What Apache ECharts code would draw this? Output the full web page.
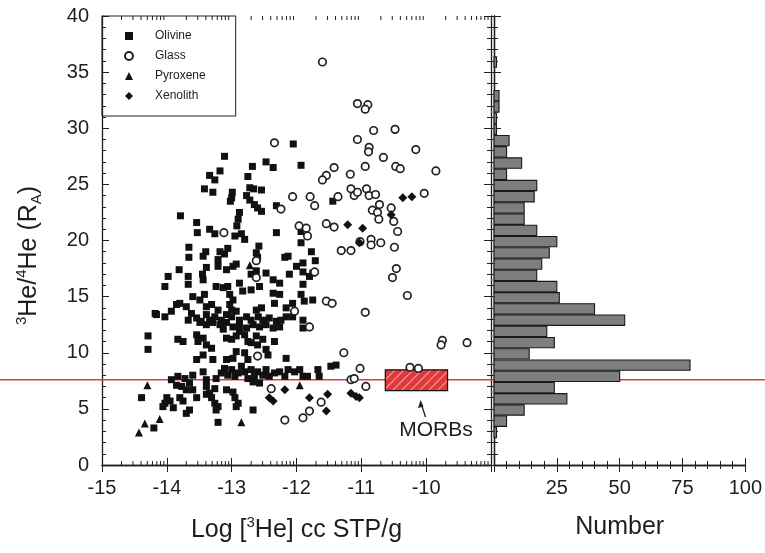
<!DOCTYPE html>
<html><head><meta charset="utf-8">
<script src="https://cdn.jsdelivr.net/npm/echarts@6/dist/echarts.min.js"></script>
<style>html,body{margin:0;padding:0;background:#fff}#c{width:765px;height:553px}</style>
</head><body><div id="c"></div>
<script>
// ---- data: [log 3He, 3He/4He (RA)] ----
const olivine = [[-13.11,27.5],[-13.18,26.2],[-13.34,25.8],[-13.26,25.4],[-13.42,24.6],[-13.29,24.3],[-12.99,24.3],[-13.00,23.8],[-13.02,23.5],[-12.68,26.6],[-12.75,25.7],[-12.47,27.0],[-12.36,26.5],[-12.05,28.6],[-12.72,24.7],[-12.66,24.6],[-12.54,24.5],[-12.77,24.0],[-12.72,23.6],[-12.65,23.2],[-12.60,22.9],[-12.54,22.6],[-12.31,23.1],[-13.79,22.2],[-13.54,21.6],[-13.53,20.7],[-13.34,21.0],[-13.26,20.6],[-12.88,22.5],[-12.90,21.9],[-12.92,21.3],[-12.95,20.4],[-12.85,20.6],[-12.80,20.1],[-12.31,20.7],[-13.66,19.4],[-13.66,18.5],[-13.44,18.6],[-13.40,19.0],[-13.18,19.0],[-13.11,18.8],[-13.06,19.3],[-13.21,18.3],[-13.21,17.7],[-13.08,17.4],[-12.98,17.7],[-12.93,17.9],[-12.58,19.5],[-12.62,18.9],[-12.60,18.5],[-12.18,18.5],[-12.13,18.6],[-13.81,17.4],[-13.98,16.8],[-13.67,16.8],[-13.45,17.0],[-13.39,17.6],[-12.70,17.0],[-12.62,17.3],[-12.47,17.1],[-12.11,17.0],
[-11.93,26.7],[-11.44,23.5],[-11.93,19.8],[-11.77,19.0],[-11.71,18.2],[-11.90,18.0],[-12.00,17.7],[-11.90,17.2],[-11.80,16.8],[-11.93,20.8],
[-14.03,15.9],[-13.67,16.1],[-13.44,16.5],[-13.24,15.9],[-13.13,15.8],[-13.06,15.9],[-13.03,15.2],[-12.98,14.7],[-13.03,14.3],[-13.00,13.8],[-12.88,16.2],[-12.83,15.5],[-12.70,15.6],[-12.57,15.9],[-12.36,16.5],[-12.26,16.2],[-12.36,15.3],[-12.26,15.2],[-13.60,15.0],[-13.42,15.2],[-13.49,14.7],[-13.85,14.3],[-13.80,14.4],[-13.70,14.1],[-13.39,14.1],[-13.31,14.3],[-14.18,13.5],[-14.16,13.4],[-14.03,13.2],[-13.93,13.7],[-13.67,12.9],[-13.62,13.5],[-13.54,13.1],[-13.47,12.8],[-13.39,13.4],[-13.34,12.9],[-13.26,13.2],[-13.21,13.8],[-13.16,12.9],[-13.08,13.4],[-13.00,13.2],[-12.93,13.7],[-12.88,12.9],[-12.77,13.2],[-12.70,12.9],[-12.62,13.8],[-12.54,14.0],[-12.59,13.2],[-12.52,12.9],[-12.42,13.1],[-12.31,12.8],[-12.24,12.9],[-12.16,13.2],[-12.34,14.4],[-12.16,14.0],[-13.49,12.7],[-13.39,12.5],[-13.29,12.7],[-13.18,12.5],[-13.08,12.7],[-12.98,12.3],[-12.88,12.5],[-12.77,12.2],[-12.67,12.5],[-12.57,12.3],[-12.47,12.5],[-12.36,12.2],[-12.26,12.3],[-14.29,11.5],[-14.29,10.3],[-13.83,11.2],[-13.75,11.0],[-13.54,11.6],[-13.52,11.0],[-13.44,11.3],[-13.39,10.7],[-13.31,10.4],[-13.13,12.1],[-13.08,11.3],[-13.00,11.2],[-12.93,11.5],[-12.88,11.9],[-12.80,11.6],[-12.75,11.0],[-12.70,10.9],[-12.62,11.5],[-12.60,10.7],[-12.52,11.2],[-12.34,11.0],[-13.54,9.4],[-13.44,9.8],[-13.29,9.4],[-13.08,9.4],[-12.98,9.5],[-12.93,10.1],[-12.80,10.0],[-12.75,9.4],[-12.47,10.3],[-12.44,9.8],[-12.16,9.5],
[-13.93,7.6],[-13.83,7.9],[-13.72,7.7],[-13.65,7.3],[-13.60,8.0],[-13.44,8.3],[-13.39,7.6],[-13.24,7.7],[-13.16,8.2],[-13.11,8.6],[-13.06,8.0],[-13.00,8.5],[-12.95,7.9],[-12.90,8.2],[-12.85,8.8],[-12.80,8.3],[-12.75,7.7],[-12.70,8.5],[-12.65,7.9],[-12.60,8.3],[-12.52,8.0],[-12.47,8.5],[-12.42,7.9],[-12.34,8.2],[-12.26,8.3],[-12.18,7.9],[-12.13,8.5],[-12.67,7.4],[-12.57,7.3],
[-13.85,7.1],[-13.77,7.0],[-13.70,6.7],[-13.60,6.7],[-13.39,7.0],[-13.34,6.4],[-13.26,6.8],[-13.08,6.7],[-12.98,6.5],[-14.39,6.0],[-14.00,6.0],[-14.03,5.5],[-13.95,5.7],[-13.80,6.0],[-13.75,5.7],[-13.54,6.0],[-13.39,6.3],[-13.31,6.0],[-13.26,5.5],[-13.21,5.2],[-13.24,4.9],[-12.95,6.0],[-12.90,5.5],[-12.93,5.2],[-12.67,4.9],[-14.06,5.2],[-13.90,5.1],[-13.70,4.6],[-13.65,4.9],[-13.21,3.8],[-14.20,3.3],
[-11.75,17.1],[-11.90,16.1],[-11.93,15.2],[-11.88,14.6],[-11.75,14.7],[-12.06,14.4],[-12.06,13.2],[-11.90,12.9],[-11.90,12.2],[-12.03,8.3],[-11.95,8.5],[-11.90,7.9],[-11.83,7.9],[-11.67,8.5],[-11.65,7.9],[-11.47,8.8],[-11.39,8.9]];

const glass = [[-12.34,28.7],[-12.24,22.8],[-13.12,20.7],[-12.62,18.2],[-12.06,23.9],[-11.60,35.9],[-11.06,32.2],[-10.90,32.1],[-10.94,31.7],[-10.81,29.8],[-10.48,29.9],[-11.06,29.0],[-10.88,28.3],[-10.89,27.9],[-10.66,27.4],[-10.16,28.1],[-11.42,26.5],[-11.54,25.8],[-11.60,25.4],[-11.17,25.9],[-10.94,26.6],[-10.47,26.6],[-10.40,26.4],[-9.85,26.2],[-11.79,23.9],[-11.72,23.1],[-11.36,23.9],[-11.16,24.6],[-11.11,24.0],[-11.06,24.3],[-10.92,24.6],[-10.88,24.0],[-10.78,24.1],[-10.72,23.2],[-10.83,22.7],[-10.75,22.5],[-10.73,21.9],[-10.54,22.9],[-10.50,21.7],[-10.03,24.2],[-11.96,21.3],[-11.85,21.1],[-11.83,20.4],[-11.54,21.5],[-11.42,21.2],[-10.44,20.8],[-11.31,19.1],[-11.16,19.1],[-11.02,19.9],[-10.85,20.1],[-10.85,19.6],[-10.70,19.8],[-10.49,19.4],[-10.46,17.5],[-11.72,17.2],[-10.52,16.7],[-12.62,16.7],[-12.60,9.7],[-12.18,4.0],[-12.39,6.8],[-11.54,14.6],[-11.45,14.4],[-12.03,13.7],[-11.80,12.3],[-10.29,15.1],[-10.94,13.6],[-9.75,11.1],[-9.77,10.7],[-9.37,10.9],[-11.27,10.0],[-11.02,8.6],[-11.16,7.6],[-11.11,7.7],[-10.93,7.0],[-11.62,5.6],[-11.80,4.8],[-11.90,4.2],[-10.25,8.7],[-10.12,8.6]];

const pyroxene = [[-14.30,7.1],[-14.34,3.7],[-14.43,2.9],[-14.11,4.1],[-12.85,3.8],[-11.95,7.1],[-12.72,17.8]];

const xenolith = [[-10.36,23.8],[-10.22,23.9],[-11.21,21.4],[-10.98,21.1],[-10.54,22.3],[-11.03,19.8],[-12.18,6.7],[-12.42,6.0],[-12.36,5.7],[-11.16,6.4],[-11.08,6.1],[-11.03,6.0],[-11.80,6.0],[-11.52,6.3],[-11.54,4.8]];

// histogram of 3He/4He (bin centre, number)
const binCenters = [2.9,3.9,4.9,5.9,6.9,7.9,8.9,9.9,10.9,11.9,12.9,13.9,14.9,15.9,16.9,17.9,18.9,19.9,20.9,21.9,22.9,23.9,24.9,25.9,26.9,27.9,28.9,29.9,30.9,31.9,32.9,35.9];
const binCounts  = [1,5,12,29,24,50,78,14,24,21,52,40,26,25,17,19,22,25,17,12,12,16,17,5,11,5,6,1,1,2,2,1];

// MORB range box: [xMin, yMin, xMax, yMax] and MORB reference ratio
const morbBox = [-10.63, 6.63, -9.67, 8.48];
const morbRatio = 7.6;

const xTicksLeft = [-15,-14,-13,-12,-11,-10,-9];
const yTickStep = 5;
const numberTickStep = 25;

// ---- chart ----
const FONT = '"Liberation Sans", Arial, Helvetica, sans-serif';
const AX = '#1e1e1e';
const chart = echarts.init(document.getElementById('c'), null, {renderer: 'canvas'});

function hatchPattern() {
  const c = document.createElement('canvas');
  c.width = 9; c.height = 9;
  const g = c.getContext('2d');
  g.fillStyle = '#e0393b'; g.fillRect(0, 0, 9, 9);
  g.strokeStyle = 'rgba(255,170,170,0.85)'; g.lineWidth = 1.2;
  g.beginPath();
  g.moveTo(0, 9); g.lineTo(9, 0);
  g.moveTo(-3, 3); g.lineTo(3, -3);
  g.moveTo(6, 12); g.lineTo(12, 6);
  g.stroke();
  return c;
}

// log-decade minor tick positions along log[3He]
const logMinor = [];
for (let d = xTicksLeft[0]; d < xTicksLeft[xTicksLeft.length - 1]; d++) {
  for (let m = 2; m <= 9; m++) logMinor.push([d + Math.log10(m), 0]);
}

const axLine = {show: true, lineStyle: {color: AX, width: 1.3}};
const tickIn = {show: true, inside: true, length: 7, lineStyle: {color: AX, width: 1}};
const minorIn = {show: true, splitNumber: 5, length: 4, lineStyle: {color: AX, width: 1}};
const supRich = {
  s: {fontSize: 15, fontFamily: FONT, color: AX, verticalAlign: 'top', lineHeight: 30},
  b: {fontSize: 15, fontFamily: FONT, color: AX, verticalAlign: 'bottom', lineHeight: 30},
  n: {fontSize: 25, fontFamily: FONT, color: AX, lineHeight: 30}
};

const gridL = {left: 102, top: 16, width: 389, height: 449};
const gridR = {left: 494, top: 16, width: 257, height: 449};

const option = {
  animation: false,
  backgroundColor: '#fff',
  grid: [gridL, gridR],
  legend: {
    orient: 'vertical', left: 102, top: 16,
    itemWidth: 8, itemHeight: 8, itemGap: 6,
    padding: [13, 30, 13, 22],
    borderColor: AX, borderWidth: 1,
    textStyle: {fontSize: 12, fontFamily: FONT, color: AX, lineHeight: 14, padding: [0, 0, 0, 17]},
    data: ['Olivine', 'Glass', 'Pyroxene', 'Xenolith']
  },
  xAxis: [
    {gridIndex: 0, type: 'value', position: 'bottom', min: xTicksLeft[0], max: xTicksLeft[xTicksLeft.length-1], interval: 1,
     axisLine: axLine, axisTick: tickIn, splitLine: {show: false},
     axisLabel: {fontSize: 20, fontFamily: FONT, color: AX, margin: 13, formatter: v => v === -9 ? '' : String(v)},
     name: '{n|Log [}{s|3}{n|He] cc STP/g}', nameLocation: 'middle', nameGap: 50,
     nameTextStyle: {fontSize: 25, fontFamily: FONT, color: AX, rich: supRich}},
    {gridIndex: 0, type: 'value', position: 'top', min: xTicksLeft[0], max: xTicksLeft[xTicksLeft.length-1], interval: 1,
     axisLine: axLine, axisTick: tickIn, axisLabel: {show: false}, splitLine: {show: false}},
    {gridIndex: 1, type: 'value', position: 'bottom', min: 0, max: 100, interval: numberTickStep,
     axisLine: axLine, axisTick: tickIn, minorTick: minorIn, splitLine: {show: false},
     axisLabel: {fontSize: 20, fontFamily: FONT, color: AX, margin: 13, formatter: v => v === 0 ? '' : String(v)},
     name: 'Number', nameLocation: 'middle', nameGap: 50,
     nameTextStyle: {fontSize: 25, fontFamily: FONT, color: AX}},
    {gridIndex: 1, type: 'value', position: 'top', min: 0, max: 100, interval: numberTickStep,
     axisLine: axLine, axisTick: tickIn, minorTick: minorIn, axisLabel: {show: false}, splitLine: {show: false}}
  ],
  yAxis: [
    {gridIndex: 0, type: 'value', position: 'left', min: 0, max: 40, interval: yTickStep,
     axisLine: axLine, axisTick: tickIn, minorTick: minorIn, splitLine: {show: false},
     axisLabel: {fontSize: 20, fontFamily: FONT, color: AX, margin: 13},
     name: '{s|3}{n|He/}{s|4}{n|He (R}{b|A}{n|)}', nameLocation: 'middle', nameGap: 58,
     nameTextStyle: {fontSize: 25, fontFamily: FONT, color: AX, rich: supRich, padding: [0, 30, 0, 0]}},
    {gridIndex: 0, type: 'value', position: 'right', min: 0, max: 40, interval: yTickStep,
     axisLine: axLine, axisTick: tickIn, minorTick: minorIn, axisLabel: {show: false}, splitLine: {show: false}},
    {gridIndex: 1, type: 'value', position: 'left', min: 0, max: 40, interval: yTickStep,
     axisLine: axLine, axisTick: tickIn, minorTick: minorIn, axisLabel: {show: false}, splitLine: {show: false}},
    {gridIndex: 1, type: 'value', position: 'right', min: 0, max: 40, interval: yTickStep,
     axisLine: axLine, axisTick: tickIn, minorTick: minorIn, axisLabel: {show: false}, splitLine: {show: false}}
  ],
  series: [
    { // MORB reference line across the whole figure
      type: 'custom', xAxisIndex: 0, yAxisIndex: 0, z: 1, silent: true,
      data: [[xTicksLeft[0], morbRatio]],
      renderItem: (params, api) => {
        const p = api.coord([api.value(0), api.value(1)]);
        return {type: 'line', shape: {x1: 0, y1: p[1], x2: api.getWidth(), y2: p[1]},
                style: {stroke: '#e8383a', lineWidth: 1.6}};
      }
    },
    { // MORB box
      type: 'custom', xAxisIndex: 0, yAxisIndex: 0, z: 2, silent: true,
      data: [morbBox],
      renderItem: (params, api) => {
        const a = api.coord([api.value(0), api.value(1)]);
        const b = api.coord([api.value(2), api.value(3)]);
        return {type: 'rect', shape: {x: a[0], y: b[1], width: b[0] - a[0], height: a[1] - b[1]},
                style: {fill: {image: hatchPattern(), repeat: 'repeat'}, stroke: '#111', lineWidth: 1.2}};
      }
    },
    { // log minor ticks (bottom and top) for the log[3He] axis
      type: 'custom', xAxisIndex: 0, yAxisIndex: 0, z: 4, silent: true,
      data: logMinor,
      renderItem: (params, api) => {
        const v = api.value(0);
        const b = api.coord([v, 0]);
        const t = api.coord([v, 40]);
        return {type: 'group', children: [
          {type: 'line', shape: {x1: b[0], y1: b[1], x2: b[0], y2: b[1] - 4}, style: {stroke: AX, lineWidth: 1}},
          {type: 'line', shape: {x1: t[0], y1: t[1], x2: t[0], y2: t[1] + 4}, style: {stroke: AX, lineWidth: 1}}
        ]};
      }
    },
    {name: 'Olivine', type: 'scatter', xAxisIndex: 0, yAxisIndex: 0, z: 3, data: olivine,
     symbol: 'rect', symbolSize: 7, itemStyle: {color: '#111', opacity: 1}},
    {name: 'Glass', type: 'scatter', xAxisIndex: 0, yAxisIndex: 0, z: 3, data: glass,
     symbol: 'circle', symbolSize: 7.5, itemStyle: {color: '#fff', borderColor: '#222', borderWidth: 1.7, opacity: 1}},
    {name: 'Pyroxene', type: 'scatter', xAxisIndex: 0, yAxisIndex: 0, z: 3, data: pyroxene,
     symbol: 'triangle', symbolSize: 8, itemStyle: {color: '#111', opacity: 1}},
    {name: 'Xenolith', type: 'scatter', xAxisIndex: 0, yAxisIndex: 0, z: 3, data: xenolith,
     symbol: 'diamond', symbolSize: 9, itemStyle: {color: '#111', opacity: 1}},
    { // histogram
      type: 'custom', xAxisIndex: 2, yAxisIndex: 2, z: 5, silent: true,
      data: binCenters.map((c, i) => [binCounts[i], c]),
      renderItem: (params, api) => {
        const n = api.value(0), c = api.value(1);
        const a = api.coord([0, c - 0.46]);
        const b = api.coord([n, c + 0.46]);
        return {type: 'rect', shape: {x: a[0], y: b[1], width: Math.max(b[0] - a[0], 1.5), height: a[1] - b[1]},
                style: {fill: '#7e7e7e', stroke: '#1a1a1a', lineWidth: 1.1}};
      }
    }
  ],
  graphic: [
    {type: 'text', z: 10, style: {x: 436, y: 430, text: 'MORBs', fontSize: 21, fontFamily: FONT, fill: AX, align: 'center', verticalAlign: 'middle'}},
    {type: 'line', z: 10, shape: {x1: 425.5, y1: 417, x2: 421, y2: 403}, style: {stroke: AX, lineWidth: 1.3}},
    {type: 'polygon', z: 10, shape: {points: [[420.5, 400], [418, 408], [423.5, 406.5]]}, style: {fill: AX}}
  ]
};
chart.setOption(option);
</script>
</body></html>
